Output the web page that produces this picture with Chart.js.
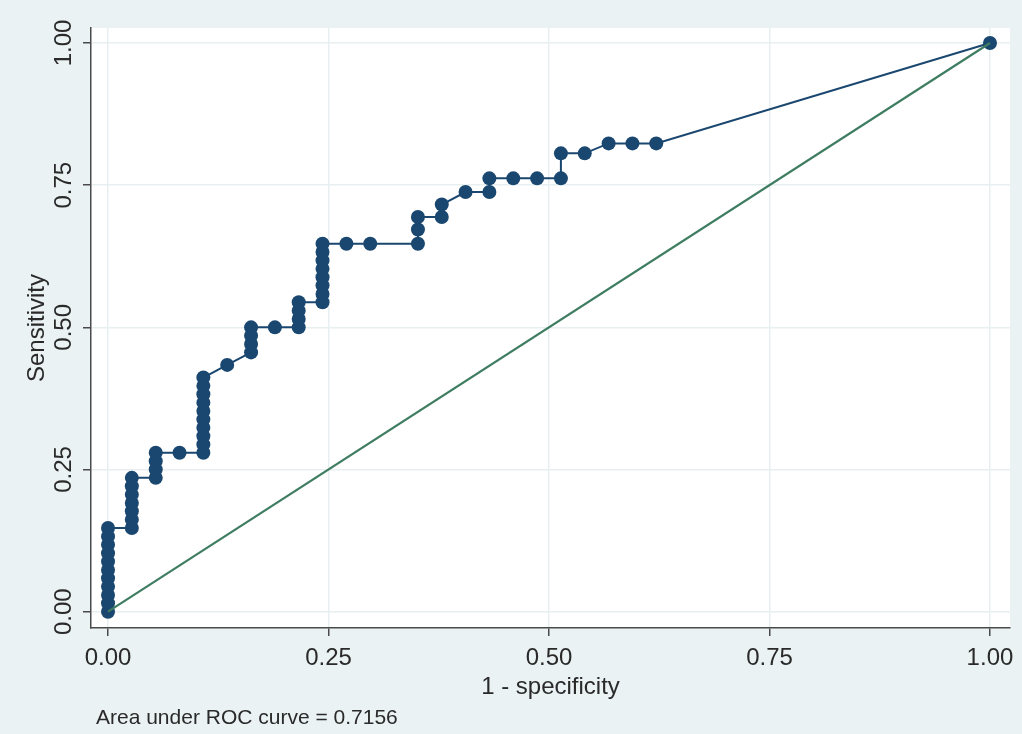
<!DOCTYPE html>
<html>
<head>
<meta charset="utf-8">
<script src="https://cdn.jsdelivr.net/npm/chart.js@4.4.1/dist/chart.umd.min.js"></script>
<style>
  html, body { margin: 0; padding: 0; background: #eaf2f3; }
  #wrap { width: 1022px; height: 734px; position: relative; }
</style>
</head>
<body>
<div id="wrap"><canvas id="roc"></canvas></div>
<script>
// 1 - specificity (x) and sensitivity (y) of each ROC point
const fpr = [
  0, 0, 0, 0, 0, 0, 0, 0, 0, 0, 0,
  0.027, 0.027, 0.027, 0.027, 0.027, 0.027, 0.027,
  0.0541, 0.0541, 0.0541, 0.0541,
  0.0811,
  0.1081, 0.1081, 0.1081, 0.1081, 0.1081, 0.1081, 0.1081, 0.1081, 0.1081, 0.1081,
  0.1351,
  0.1622, 0.1622, 0.1622, 0.1622,
  0.1892,
  0.2162, 0.2162, 0.2162, 0.2162,
  0.2432, 0.2432, 0.2432, 0.2432, 0.2432, 0.2432, 0.2432, 0.2432,
  0.2703, 0.2973,
  0.3514, 0.3514, 0.3514,
  0.3784, 0.3784,
  0.4054,
  0.4324, 0.4324,
  0.4595, 0.4865,
  0.5135, 0.5135,
  0.5405,
  0.5676, 0.5946, 0.6216,
  1
];
const sens = [
  0, 0.0147, 0.0294, 0.0441, 0.0588, 0.0735, 0.0882, 0.1029, 0.1176, 0.1324, 0.1471,
  0.1471, 0.1618, 0.1765, 0.1912, 0.2059, 0.2206, 0.2353,
  0.2353, 0.25, 0.2647, 0.2794,
  0.2794,
  0.2794, 0.2941, 0.3088, 0.3235, 0.3382, 0.3529, 0.3676, 0.3824, 0.3971, 0.4118,
  0.434,
  0.4559, 0.4706, 0.4853, 0.5,
  0.5,
  0.5, 0.5147, 0.5294, 0.5441,
  0.5441, 0.5588, 0.5735, 0.5882, 0.6029, 0.6176, 0.6324, 0.6471,
  0.6471, 0.6471,
  0.6471, 0.672, 0.694,
  0.694, 0.716,
  0.738,
  0.738, 0.762,
  0.762, 0.762,
  0.762, 0.806,
  0.806,
  0.8235, 0.8235, 0.8235,
  1
];
// reference (chance) line
const refX = [0, 1];
const refY = [0, 1];

const tickVals = [0, 0.25, 0.5, 0.75, 1];
const xTitle = "1 - specificity";
const yTitle = "Sensitivity";
const note = "Area under ROC curve = 0.7156";

const navy = "#1a476f";
const green = "#3f7d62";
const axisCol = "#4a4a4a";
const gridCol = "#e8eff1";

Chart.defaults.font.family = '"Liberation Sans", Arial, sans-serif';
Chart.defaults.color = "#2a2a2a";

function toPoints(xs, ys) {
  return xs.map((v, i) => ({ x: v, y: ys[i] }));
}

function setTicks(scale) {
  scale.ticks = tickVals.map(v => ({ value: v }));
}

const plotBg = {
  id: "plotBg",
  beforeDraw(chart) {
    const a = chart.chartArea;
    const c = chart.ctx;
    c.save();
    c.fillStyle = "#ffffff";
    c.fillRect(a.left, a.top, a.right - a.left, a.bottom - a.top);
    c.restore();
  },
  afterDraw(chart) {
    const c = chart.ctx;
    c.save();
    c.font = '21px "Liberation Sans", Arial, sans-serif';
    c.fillStyle = "#2a2a2a";
    c.textBaseline = "middle";
    c.fillText(note, 96, 718);
    c.restore();
  }
};

new Chart(document.getElementById("roc"), {
  type: "scatter",
  data: {
    datasets: [
      {
        label: "ROC",
        data: toPoints(fpr, sens),
        showLine: true,
        borderColor: navy,
        borderWidth: 2,
        pointRadius: 7,
        pointBackgroundColor: navy,
        pointBorderWidth: 0,
        order: 2
      },
      {
        label: "Reference",
        data: toPoints(refX, refY),
        showLine: true,
        borderColor: green,
        borderWidth: 2.2,
        pointRadius: 0,
        order: 1
      }
    ]
  },
  options: {
    responsive: true,
    maintainAspectRatio: false,
    animation: false,
    layout: { padding: { top: 28, right: 12, left: 0, bottom: 0 } },
    plugins: {
      legend: { display: false },
      tooltip: { enabled: false }
    },
    scales: {
      x: {
        type: "linear",
        min: -0.0193,
        max: 1.0227,
        afterBuildTicks: setTicks,
        afterFit(s) { s.height = 106; },
        grid: {
          color: gridCol,
          lineWidth: 1.5,
          tickColor: axisCol,
          tickLength: 8,
          tickWidth: 1.5
        },
        border: { color: axisCol, width: 1.5 },
        ticks: {
          padding: 8,
          maxRotation: 0,
          font: { size: 24 },
          callback: v => v.toFixed(2)
        },
        title: {
          display: true,
          text: xTitle,
          font: { size: 24, lineHeight: 1.2 },
          padding: { top: 0, bottom: 32 }
        }
      },
      y: {
        type: "linear",
        min: -0.0287,
        max: 1.0264,
        afterBuildTicks: setTicks,
        afterFit(s) { s.width = 91; },
        grid: {
          color: gridCol,
          lineWidth: 1.5,
          tickColor: axisCol,
          tickLength: 8,
          tickWidth: 1.5
        },
        border: { color: axisCol, width: 1.5 },
        ticks: {
          padding: -5,
          minRotation: 90,
          maxRotation: 90,
          crossAlign: "center",
          font: { size: 24 },
          callback: v => v.toFixed(2)
        },
        title: {
          display: true,
          text: yTitle,
          font: { size: 24, lineHeight: 1.2 },
          padding: { top: 23, bottom: 0 }
        }
      }
    }
  },
  plugins: [plotBg]
});
</script>
</body>
</html>
